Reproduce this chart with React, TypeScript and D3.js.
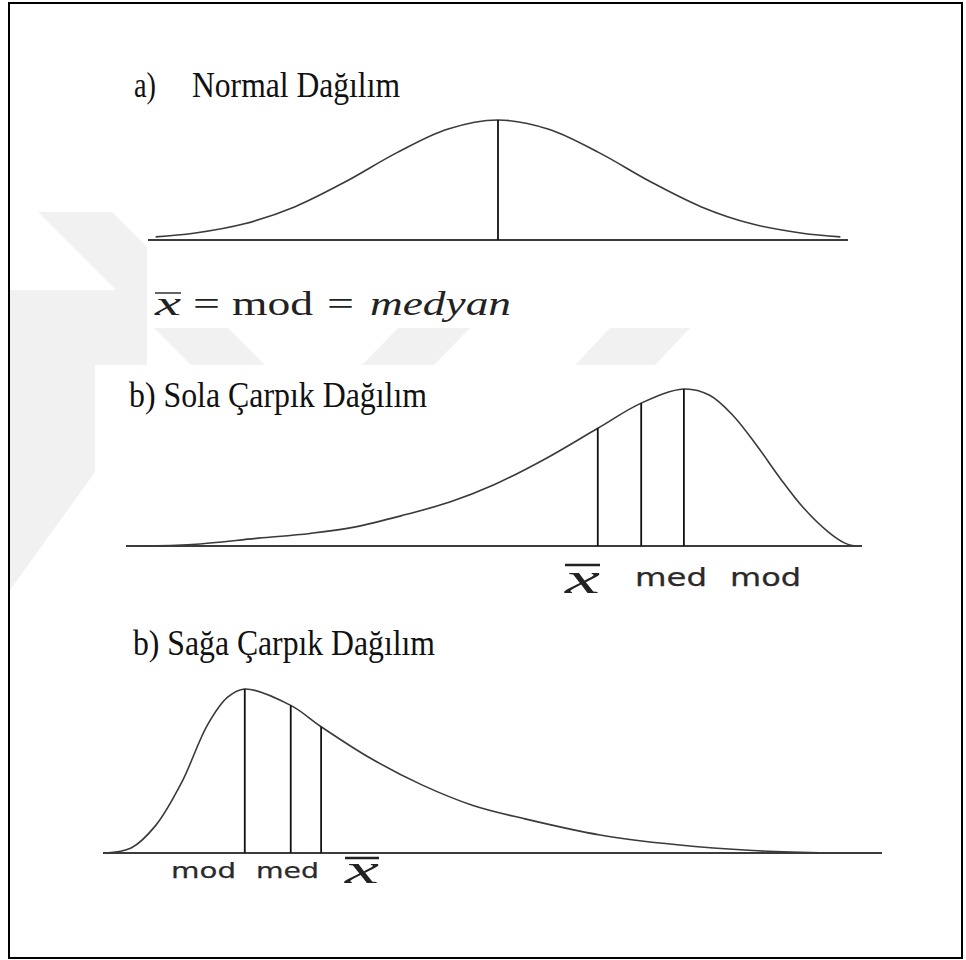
import React from "react";
import * as d3 from "d3";

const W = 966;
const H = 960;

// a) normal distribution, x in standard units, relative density
const normalX = [-2.7, -2.4, -2.0, -1.6, -1.2, -0.8, -0.4, 0, 0.4, 0.8, 1.2, 1.6, 2.0, 2.4, 2.7];
const normalY = [0.026, 0.056, 0.135, 0.278, 0.487, 0.726, 0.923, 1, 0.923, 0.726, 0.487, 0.278, 0.135, 0.056, 0.026];
const normalMarks = [{ x: 0, h: 1 }];

// b) left-skewed distribution, x on a 0–100 scale
const leftX = [2, 9, 18, 25, 31, 38, 44, 50, 57, 64.1, 70, 75.8, 79.3, 82.5, 85.7, 88.9, 92.1, 95.4, 97.6, 99];
const leftY = [0, 0.01, 0.05, 0.08, 0.12, 0.2, 0.28, 0.39, 0.556, 0.75, 0.91, 1, 0.96, 0.83, 0.64, 0.43, 0.24, 0.09, 0.02, 0];
const leftMarks = [
  { x: 64.1, h: 0.75 },
  { x: 70, h: 0.91 },
  { x: 75.8, h: 1 },
];

// c) right-skewed distribution, x on a 0–100 scale
const rightX = [0.3, 3.6, 6.8, 10.1, 13.4, 16, 18.2, 24.1, 28, 34.4, 41, 47.5, 54, 63.8, 73.7, 83.4, 93.3];
const rightY = [0, 0.03, 0.17, 0.43, 0.78, 0.95, 1, 0.9, 0.77, 0.576, 0.414, 0.29, 0.21, 0.11, 0.05, 0.015, 0];
const rightMarks = [
  { x: 18.2, h: 1 },
  { x: 24.1, h: 0.9 },
  { x: 28, h: 0.77 },
];

type Panel = {
  xs: number[];
  ys: number[];
  marks: { x: number; h: number }[];
  domain: [number, number];
  x0: number;
  x1: number;
  base: number;
  height: number;
};

const panels: Panel[] = [
  { xs: normalX, ys: normalY, marks: normalMarks, domain: [-2.76, 2.76], x0: 148, x1: 848, base: 240, height: 120 },
  { xs: leftX, ys: leftY, marks: leftMarks, domain: [0, 100], x0: 126, x1: 862, base: 546, height: 157 },
  { xs: rightX, ys: rightY, marks: rightMarks, domain: [0, 100], x0: 103, x1: 882, base: 853, height: 164 },
];

function DistPanel({ p }: { p: Panel }) {
  const x = d3.scaleLinear().domain(p.domain).range([p.x0, p.x1]);
  const y = d3.scaleLinear().domain([0, 1]).range([p.base, p.base - p.height]);
  const pts: [number, number][] = p.xs.map((v, i) => [v, p.ys[i]]);
  const line = d3
    .line<[number, number]>()
    .x((d) => x(d[0]))
    .y((d) => y(d[1]))
    .curve(d3.curveCatmullRom.alpha(0.5));
  return (
    <g>
      <line x1={p.x0} x2={p.x1} y1={p.base} y2={p.base} stroke="#3c3c3c" strokeWidth={2} />
      <path d={line(pts) || ""} fill="none" stroke="#3a3a3a" strokeWidth={1.6} />
      {p.marks.map((m, i) => (
        <line key={i} x1={x(m.x)} x2={x(m.x)} y1={p.base} y2={y(m.h)} stroke="#111" strokeWidth={1.8} />
      ))}
    </g>
  );
}

function XBar({ x, y, w, size, bar }: { x: number; y: number; w: number; size: number; bar: number }) {
  return (
    <g>
      <line x1={x} x2={x + w} y1={bar} y2={bar} stroke="#222" strokeWidth={2.4} />
      <text x={x} y={y} fontFamily="'Liberation Serif', serif" fontStyle="italic" fontSize={size} fill="#222" textLength={w} lengthAdjust="spacingAndGlyphs">
        x
      </text>
    </g>
  );
}

const serif = "'Liberation Serif', 'Times New Roman', serif";
const sans = "'DejaVu Sans', Verdana, sans-serif";

export default function App() {
  return (
    <svg width={W} height={H} style={{ position: "absolute", left: 0, top: 0, background: "#fff" }}>
      <defs>
        <clipPath id="wm">
          <rect x={10} y={200} width={85} height={400} />
          <rect x={10} y={200} width={137} height={128} />
          <rect x={10} y={328} width={740} height={37} />
        </clipPath>
      </defs>
      {/* faint background emblem */}
      <g clipPath="url(#wm)" fill="#f1f1f1">
        <polygon points="38,212 112,212 300,400 226,400" />
        <polygon points="10,290 147,290 147,400 10,590" />
        <polygon points="398,328 470,328 434,365 362,365" />
        <polygon points="610,328 690,328 655,365 575,365" />
      </g>
      <rect x={9} y={3} width={953} height={955} fill="none" stroke="#000" strokeWidth={2} />

      {panels.map((p, i) => (
        <DistPanel key={i} p={p} />
      ))}

      {/* titles */}
      <g fontFamily={serif} fontSize={36} fill="#111">
        <text x={134} y={97} textLength={22} lengthAdjust="spacingAndGlyphs">a)</text>
        <text x={192} y={97} textLength={208} lengthAdjust="spacingAndGlyphs">Normal Dağılım</text>
        <text x={129} y={407} textLength={298} lengthAdjust="spacingAndGlyphs">b) Sola Çarpık Dağılım</text>
        <text x={133} y={655} textLength={302} lengthAdjust="spacingAndGlyphs">b) Sağa Çarpık Dağılım</text>
      </g>

      {/* equality under the normal curve */}
      <g fill="#222" fontFamily={serif} fontSize={34}>
        <line x1={155} x2={181} y1={293} y2={293} stroke="#222" strokeWidth={1.4} />
        <text x={155} y={315} fontStyle="italic" textLength={26} lengthAdjust="spacingAndGlyphs">x</text>
        <text x={193} y={315} textLength={27} lengthAdjust="spacingAndGlyphs">=</text>
        <text x={232} y={315} textLength={81} lengthAdjust="spacingAndGlyphs">mod</text>
        <text x={327} y={315} textLength={27} lengthAdjust="spacingAndGlyphs">=</text>
        <text x={370} y={315} fontStyle="italic" textLength={141} lengthAdjust="spacingAndGlyphs">medyan</text>
      </g>

      {/* left-skew labels */}
      <XBar x={565} y={593} w={35} size={44} bar={565} />
      <g fontFamily={sans} fill="#2a2a2a" stroke="#2a2a2a" strokeWidth={0.25}>
        <text x={635} y={586} fontSize={24} textLength={72} lengthAdjust="spacingAndGlyphs">med</text>
        <text x={730} y={586} fontSize={24} textLength={71} lengthAdjust="spacingAndGlyphs">mod</text>
        {/* right-skew labels */}
        <text x={171} y={878} fontSize={22} textLength={65} lengthAdjust="spacingAndGlyphs">mod</text>
        <text x={256} y={878} fontSize={22} textLength={63} lengthAdjust="spacingAndGlyphs">med</text>
      </g>
      <XBar x={345} y={883} w={34} size={42} bar={858} />
    </svg>
  );
}
